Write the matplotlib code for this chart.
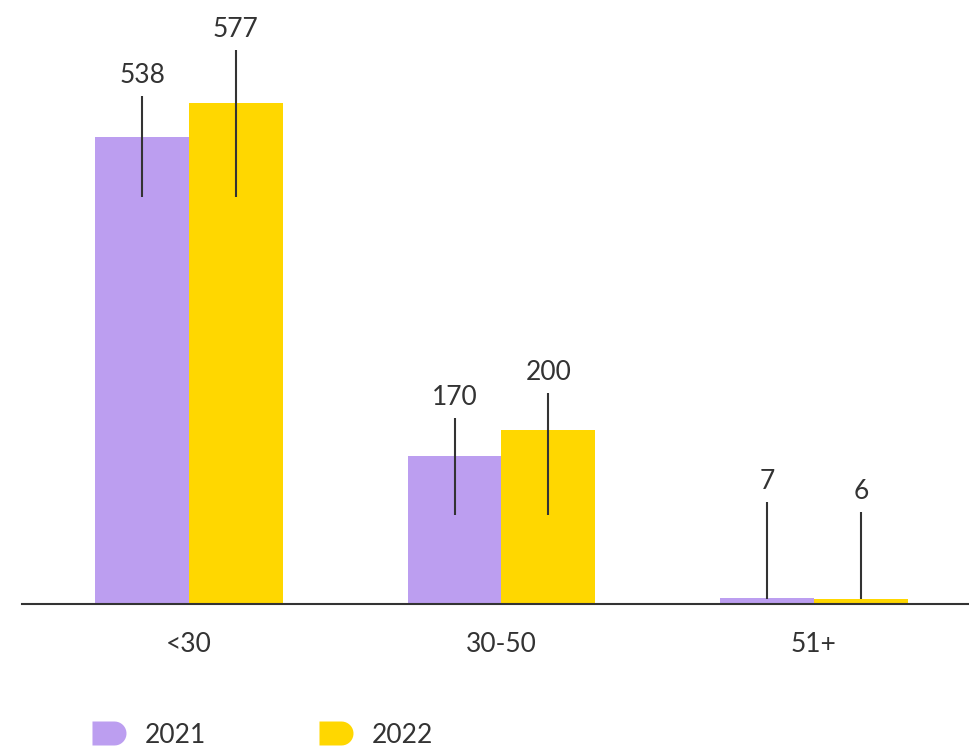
import numpy as np
import matplotlib
matplotlib.use("Agg")
import matplotlib.pyplot as plt
from matplotlib.path import Path
from matplotlib.lines import Line2D

plt.rcParams["font.family"] = ["Lato", "DejaVu Sans"]

AGE_GROUPS = ["<30", "30-50", "51+"]
YEARS = ["2021", "2022"]
VALUES_2021 = [538, 170, 7]
VALUES_2022 = [577, 200, 6]
COLORS = ["#bc9ef0", "#ffd700"]
TEXT = "#333333"

# leader lines for the value labels (data units): top end and bottom end per bar
LEADER_TOP = [[585, 214, 117], [638, 243, 106]]
LEADER_BOTTOM = [469, 102, 6]


def d_marker():
    # flat left side, rounded right side
    r = 0.705
    cx = 1.0 - r
    t = np.linspace(-np.pi / 2, np.pi / 2, 20)
    arc = np.column_stack([cx + r * np.cos(t), r * np.sin(t)])
    verts = np.vstack([[[-1.0, -r]], arc, [[-1.0, r]], [[-1.0, -r]]])
    codes = [Path.MOVETO] + [Path.LINETO] * (len(verts) - 2) + [Path.CLOSEPOLY]
    return Path(verts, codes)


def main():
    fig = plt.figure(figsize=(9.69, 7.47), dpi=100)
    ax = fig.add_axes([22 / 969, 143 / 747, 947 / 969, 604 / 747])
    x = np.arange(len(AGE_GROUPS))
    w = 0.30
    series = [VALUES_2021, VALUES_2022]
    for k, vals in enumerate(series):
        xs = x + (k - 0.5) * w
        ax.bar(xs, vals, width=w, color=COLORS[k], zorder=2)
        for j, v in enumerate(vals):
            top = LEADER_TOP[k][j]
            ax.plot([xs[j], xs[j]], [LEADER_BOTTOM[j], top], color="#333333",
                    lw=1.5, zorder=3, solid_capstyle="butt")
            ax.annotate(f"{v}", (xs[j], top), xytext=(0, 6), textcoords="offset points",
                        ha="center", va="bottom", fontsize=19, color=TEXT)

    ax.set_xlim(-0.534, 2.496)
    ax.set_ylim(0, 696)
    for s in ["top", "right", "left"]:
        ax.spines[s].set_visible(False)
    ax.spines["bottom"].set_color("#333333")
    ax.spines["bottom"].set_linewidth(1.5)
    ax.spines["bottom"].set_zorder(4)
    ax.set_yticks([])
    ax.set_xticks(x)
    ax.set_xticklabels(AGE_GROUPS, fontsize=19, color=TEXT)
    ax.tick_params(axis="x", length=0, pad=20)

    marker = d_marker()
    handles = [Line2D([], [], linestyle="none", marker=marker, markersize=24.5,
                      markerfacecolor=c, markeredgewidth=0) for c in COLORS]
    leg = fig.legend(handles, YEARS, loc="center left", bbox_to_anchor=(0.081, 0.016),
                     ncol=2, frameon=False, fontsize=19, handlelength=1.5,
                     handletextpad=0.6, columnspacing=4.2, borderaxespad=0)
    for t in leg.get_texts():
        t.set_color(TEXT)

    fig.savefig("out.png", dpi=100)
    plt.close(fig)


if __name__ == "__main__":
    main()
